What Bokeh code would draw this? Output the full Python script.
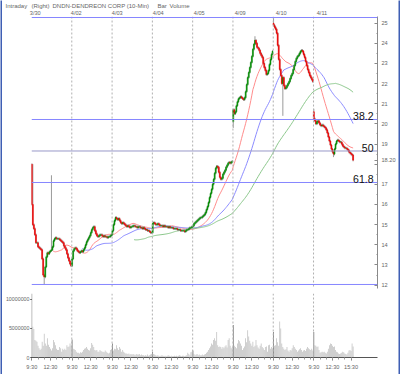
import numpy as np
import pandas as pd
from bokeh.plotting import figure
from bokeh.models import Range1d, Span, Label, FixedTicker, NumeralTickFormatter
from bokeh.layouts import column, row
from bokeh.embed import file_html
from bokeh.resources import INLINE

# ---------------- data ----------------
days = ["3/30", "4/02", "4/03", "4/04", "4/05", "4/09", "4/10", "4/11"]
day_open = [18.0, 12.95, 14.5, 14.6, 14.9, 20.1, 25.0, 20.6]

close_330 = [16.0, 15.0, 14.8, 14.5, 14.1, 14.1, 13.9, 13.85, 13.8, 13.75,
             13.3, 12.5, 12.4, 12.9, 13.4, 13.6, 13.55, 13.65, 13.7, 13.75,
             13.9, 14.2, 14.3, 14.35, 14.3, 14.3, 14.3, 14.25, 14.2, 14.15,
             14.1, 13.95, 13.85, 13.75, 13.55, 13.35, 13.2, 13.05, 12.95]
close_402 = [13.3, 13.7, 13.8, 13.85, 13.8, 13.7, 13.65, 13.6, 13.65, 13.7,
             13.65, 13.75, 13.85, 14.0, 14.15, 14.25, 14.35, 14.45, 14.6, 14.75,
             14.85, 14.9, 14.7, 14.55, 14.45, 14.4, 14.45, 14.5, 14.5, 14.45,
             14.4, 14.45, 14.4, 14.4, 14.35, 14.4, 14.4, 14.45, 14.5]
close_403 = [14.7, 15.0, 15.2, 15.35, 15.3, 15.25, 15.3, 15.2, 15.1, 15.05,
             15.1, 15.05, 15.0, 14.95, 14.9, 14.95, 14.9, 14.85, 14.9, 14.9,
             14.95, 14.95, 14.9, 14.9, 14.85, 14.9, 14.9, 14.85, 14.85, 14.8,
             14.85, 14.8, 14.75, 14.75, 14.7, 14.7, 14.65, 14.6, 14.6]
close_404 = [15.05, 15.1, 15.05, 15.0, 15.0, 15.05, 15.0, 14.95, 14.95, 14.95,
             14.9, 14.95, 14.9, 14.9, 14.9, 14.85, 14.9, 14.85, 14.85, 14.85,
             14.8, 14.8, 14.8, 14.8, 14.75, 14.75, 14.75, 14.7, 14.7, 14.7,
             14.7, 14.65, 14.7, 14.75, 14.75, 14.8, 14.85, 14.85, 14.9]
close_405 = [14.95, 15.05, 15.1, 15.15, 15.2, 15.25, 15.3, 15.35, 15.35, 15.4,
             15.45, 15.5, 15.6, 15.75, 15.9, 16.1, 16.35, 16.55, 16.75, 17.0,
             17.25, 17.55, 17.8, 17.9, 17.85, 17.6, 17.35, 17.25, 17.3, 17.5,
             17.6, 17.7, 17.85, 17.95, 18.05, 18.1, 18.05, 18.1, 18.15]
close_409 = [20.7, 20.5, 20.6, 20.9, 21.1, 21.25, 21.3, 21.35, 21.3, 21.25,
             21.2, 21.3, 21.6, 21.95, 22.3, 22.55, 22.8, 23.05, 23.35, 23.7,
             23.95, 24.15, 24.0, 23.8, 23.75, 23.65, 23.5, 23.4, 23.3, 23.0,
             22.8, 22.65, 22.45, 22.5, 22.65, 22.95, 23.2, 23.45, 23.6]
close_410 = [24.9, 24.8, 24.7, 24.5, 23.9, 23.2, 22.7, 22.4, 22.0, 22.3,
             21.9, 21.75, 21.8, 21.9, 22.0, 22.1, 22.25, 22.4, 22.5, 22.7,
             22.9, 23.1, 23.25, 23.35, 23.4, 23.5, 23.6, 23.65, 23.6, 23.45,
             23.3, 23.1, 22.9, 22.7, 22.55, 22.4, 22.3, 22.2, 22.1]
close_411 = [20.25, 20.15, 20.0, 20.1, 20.15, 20.05, 19.95, 19.9, 19.95, 19.9,
             19.85, 19.8, 19.7, 19.55, 19.35, 19.15, 18.95, 18.75, 18.6, 18.5,
             18.75, 19.0, 19.15, 19.2, 19.15, 19.1, 19.1, 19.0, 18.9, 18.85,
             18.8, 18.8, 18.75, 18.7, 18.6, 18.55, 18.5, 18.45, 18.2]

# volume, millions of shares per 10-min bar
vol_330 = [11.0, 5.3, 4.9, 3.0, 2.9, 2.7, 2.0, 1.6, 1.3, 1.5,
           2.7, 2.0, 4.1, 2.4, 2.0, 3.3, 2.2, 1.8, 1.5, 1.2,
           1.6, 3.0, 2.6, 2.1, 1.5, 1.3, 1.3, 1.8, 1.6, 1.0,
           1.5, 1.3, 1.5, 1.3, 2.1, 1.8, 1.9, 2.4, 2.0]
vol_402 = [3.1, 1.5, 1.4, 1.3, 1.0, 0.8, 0.8, 0.7, 0.9, 0.8,
           1.0, 1.3, 1.5, 1.6, 1.8, 1.5, 1.3, 1.2, 1.6, 2.5,
           2.2, 1.8, 1.3, 1.2, 1.3, 1.0, 1.0, 1.3, 1.1, 1.0,
           1.0, 0.9, 1.2, 1.0, 0.8, 0.7, 0.8, 1.3, 1.5]
vol_403 = [2.4, 1.2, 1.5, 1.4, 2.1, 1.6, 1.3, 1.8, 1.5, 1.0,
           1.3, 1.0, 0.8, 0.7, 0.7, 0.6, 0.7, 0.5, 0.6, 0.5,
           0.6, 0.5, 0.4, 0.6, 0.5, 0.5, 0.6, 0.4, 0.5, 0.4,
           0.4, 0.3, 0.4, 0.3, 0.5, 0.3, 0.4, 0.5, 0.6]
vol_404 = [1.0, 0.6, 0.5, 0.4, 0.3, 0.4, 0.3, 0.2, 0.3, 0.4,
           0.3, 0.2, 0.3, 0.2, 0.3, 0.4, 0.3, 0.2, 0.3, 0.2,
           0.2, 0.3, 0.2, 0.3, 0.2, 0.3, 0.4, 0.3, 0.2, 0.3,
           0.3, 0.2, 0.3, 0.4, 0.8, 0.6, 0.4, 0.9, 1.0]
vol_405 = [1.2, 0.6, 0.4, 0.5, 0.6, 0.4, 0.5, 0.4, 0.4, 0.5,
           0.4, 0.5, 0.6, 0.8, 1.0, 1.3, 1.6, 1.9, 2.4, 2.2,
           3.0, 3.3, 2.9, 4.4, 2.1, 1.8, 1.9, 1.8, 1.5, 1.8,
           1.6, 1.9, 2.1, 1.7, 3.0, 3.3, 2.0, 1.6, 1.8]
vol_409 = [5.6, 2.0, 1.8, 1.6, 2.4, 3.0, 2.8, 2.4, 2.0, 1.3,
           1.6, 1.9, 3.3, 2.6, 4.7, 3.6, 2.9, 2.4, 2.0, 2.7,
           1.8, 2.0, 3.0, 2.1, 1.7, 1.5, 2.0, 2.4, 1.8, 1.6,
           1.3, 1.8, 1.9, 1.0, 2.1, 2.2, 1.5, 1.8, 1.6]
vol_410 = [4.4, 2.0, 2.1, 3.3, 2.6, 2.0, 6.2, 5.0, 2.4, 1.8,
           1.5, 1.3, 1.4, 1.8, 1.2, 1.0, 1.3, 1.2, 1.6, 2.1,
           1.8, 1.5, 1.3, 1.0, 1.2, 1.4, 1.6, 1.3, 1.0, 1.2,
           1.3, 1.1, 1.5, 1.8, 1.6, 1.4, 1.3, 1.5, 1.2]
vol_411 = [4.4, 2.1, 2.0, 1.8, 1.9, 1.3, 0.8, 0.9, 1.0, 0.9,
           1.0, 0.8, 0.7, 1.0, 1.5, 2.1, 2.4, 2.3, 2.0, 1.8,
           1.9, 1.3, 1.0, 0.9, 0.7, 0.6, 0.7, 0.8, 1.0, 0.9,
           0.7, 0.6, 0.5, 0.8, 1.2, 1.3, 1.1, 2.4, 1.9]

# wick extremes that stand out (bar number, price)
spike_high_bar = [0, 1, 19, 216, 234, 273]
spike_high_val = [18.05, 18.0, 17.45, 24.35, 25.25, 20.75]
spike_low_bar = [12, 195, 243, 292]
spike_low_val = [12.05, 19.8, 20.4, 18.35]

fib_high = 25.28
fib_low = 12.03
fib_pcts = [0, 38.2, 50, 61.8, 100]
last_price = 18.20

ma_windows = [20, 50, 100]
ma_colors = ["#ff8c8c", "#8c8cff", "#8cc88c"]

time_tick_bar = [0, 18]          # 9:30 and 12:30 within a session
time_tick_text = ["9:30", "12:30"]
close_tick_bar = 36               # 15:30 on the last session
close_tick_text = "15:30"

title_parts = ["Intraday", "(Right)", "DNDN-DENDREON CORP (10-Min)", "Bar", "Volume"]
title_part_px = [3, 29, 50, 155, 167]   # left edge of each part in the header

closes_by_day = [close_330, close_402, close_403, close_404, close_405, close_409, close_410, close_411]
vols_by_day = [vol_330, vol_402, vol_403, vol_404, vol_405, vol_409, vol_410, vol_411]

# ---------------- build series ----------------
BARS = 39
idx, o, c, vol, first = [], [], [], [], []
for d, (cl, vl) in enumerate(zip(closes_by_day, vols_by_day)):
    prev = day_open[d]
    for k, val in enumerate(cl):
        idx.append(d * BARS + k)
        o.append(prev)
        c.append(val)
        prev = val
        vol.append(vl[k] * 1e6 if k < len(vl) else 0)
        first.append(k == 0)
idx = np.array(idx, float); o = np.array(o); c = np.array(c)
pad = 0.06
hi = np.maximum(o, c) + pad
lo = np.minimum(o, c) - pad
pos = {int(b): n for n, b in enumerate(idx)}
for b, v in zip(spike_high_bar, spike_high_val):
    if b in pos: hi[pos[b]] = v
for b, v in zip(spike_low_bar, spike_low_val):
    if b in pos: lo[pos[b]] = v
body_top = np.maximum(o, c)
body_bot = np.minimum(o, c)
body_col = list(np.where(c >= o, "#009000", "#f00000"))
vol_col = ["#5a5a5a" if f else "#b8b8b8" for f in first]

FONT = "Liberation Sans"
BLUE = "#3f5fb4"

# horizontal layout (pixels inside the 396 px wide column)
PX_BAR = 1.051
LEFT = 26          # frame left edge
AXIS_PX = 378      # price axis line
X0 = -0.3
X_AXIS = X0 + (AXIS_PX - LEFT) / PX_BAR
Y0, Y1 = 11.83, 25.33


def no_align(f):
    try:
        f.frame_align = False
    except Exception:
        pass
    return f


# ---------------- header (title + session dates) ----------------
h = figure(width=396, height=16, output_backend="svg", toolbar_location=None,
           x_axis_location=None, y_axis_location=None, min_border=0,
           outline_line_color=None,
           x_range=Range1d(X0 - LEFT / PX_BAR, X0 + (396 - LEFT) / PX_BAR),
           y_range=Range1d(0, 16))
no_align(h)
h.grid.visible = False
for txt, xp in zip(title_parts, title_part_px):
    h.add_layout(Label(x=xp, x_units="screen", y=11, y_units="data", text_baseline="middle",
                       text=txt, text_font=FONT, text_font_size="6px",
                       text_color="#666666"))
for d, name in enumerate(days):
    h.add_layout(Label(x=d * BARS, x_units="data", x_offset=1, y=4, y_units="data",
                       text_baseline="middle", text=name, text_font=FONT,
                       text_font_size="5.6px", text_color="#666666"))

# ---------------- price panel ----------------
p = figure(width=396, height=273, x_range=Range1d(X0, X_AXIS), y_range=Range1d(Y0, Y1),
           output_backend="svg", toolbar_location=None, x_axis_location=None,
           y_axis_location="right", min_border_left=LEFT, min_border_right=396 - AXIS_PX,
           min_border_top=0, min_border_bottom=1)
p.grid.visible = False
p.outline_line_color = None

# right price axis; the last trade (18.20) is marked on it in place of the 18 label
ya = p.yaxis[0]
ticks_p = list(range(12, 26)) + [last_price]
ya.ticker = FixedTicker(ticks=ticks_p, minor_ticks=list(np.arange(12.5, 25.5, 1.0)))
ya.major_label_overrides = {18: "", last_price: "%.2f" % last_price}
ya.axis_line_color = "#8a8a8a"
ya.major_tick_in = 3; ya.major_tick_out = 0
ya.minor_tick_in = 1; ya.minor_tick_out = 0
ya.major_tick_line_color = "#8a8a8a"; ya.minor_tick_line_color = "#8a8a8a"
ya.major_label_standoff = 4
ya.major_label_text_font = FONT
ya.major_label_text_font_size = "5.6px"
ya.major_label_text_color = "#666666"

for d in range(1, len(days)):
    p.add_layout(Span(location=d * BARS - 0.3, dimension="height", line_color="#b0b0b0",
                      line_dash="2 2", line_width=1))

rng = fib_high - fib_low
for pct in fib_pcts:
    lvl = fib_high - pct / 100.0 * rng
    col = "#9898c8" if pct == 50 else "#8686ff"
    p.add_layout(Span(location=lvl, dimension="width", line_color=col, line_width=1))
    if 0 < pct < 100:
        p.add_layout(Label(x=X_AXIS, x_units="data", x_offset=-4, y=lvl, y_units="data",
                           y_offset=3, text="%g" % pct, text_align="right",
                           text_baseline="alphabetic", text_font=FONT,
                           text_font_size="10.5px", text_color="#111111"))

cs = pd.Series(c)
for w, colr in zip(ma_windows, ma_colors):
    ma = cs.rolling(w).mean().to_numpy()
    m = ~np.isnan(ma)
    p.line(idx[m], ma[m], line_color=colr, line_width=1)

p.segment(x0=idx, y0=lo, x1=idx, y1=hi, line_color="#9a9a9a", line_width=1)
p.vbar(x=idx, width=0.9, top=body_top, bottom=body_bot, fill_color=body_col,
       line_color=body_col, line_width=0.6)

# ---------------- volume panel ----------------
v = figure(width=396, height=81, x_range=p.x_range, y_range=Range1d(0, 11.0e6),
           output_backend="svg", toolbar_location=None, min_border_left=LEFT,
           min_border_right=396 - AXIS_PX, min_border_top=2, min_border_bottom=15)
v.grid.visible = False
v.outline_line_color = None
for d in range(1, len(days)):
    v.add_layout(Span(location=d * BARS - 0.3, dimension="height", line_color="#b0b0b0",
                      line_dash="2 2", line_width=1))
v.vbar(x=idx, width=0.65, top=vol, bottom=0, fill_color=vol_col, line_color=None)

vy = v.yaxis[0]
vy.ticker = FixedTicker(ticks=[0, 5e6, 10e6])
vy.formatter = NumeralTickFormatter(format="0")
vy.axis_line_color = None
vy.major_tick_out = 1; vy.major_tick_in = 0
vy.minor_tick_line_color = None
vy.major_label_standoff = 1
vy.major_label_text_font = FONT
vy.major_label_text_font_size = "5.3px"
vy.major_label_text_color = "#666666"

ticks, labels = [], {}
for d in range(len(days)):
    for b, t in zip(time_tick_bar, time_tick_text):
        ticks.append(d * BARS + b); labels[d * BARS + b] = t
last = (len(days) - 1) * BARS + close_tick_bar
ticks.append(last); labels[last] = close_tick_text
minor = [d * BARS + k for d in range(len(days)) for k in range(0, BARS, 6)]
vx = v.xaxis[0]
vx.ticker = FixedTicker(ticks=ticks, minor_ticks=minor)
vx.major_label_overrides = labels
vx.axis_line_color = "#555555"
vx.major_tick_out = 3; vx.major_tick_in = 0
vx.minor_tick_out = 2; vx.minor_tick_in = 0
vx.major_tick_line_color = "#777777"; vx.minor_tick_line_color = "#999999"
vx.major_label_standoff = 3
vx.major_label_text_font = FONT
vx.major_label_text_font_size = "5.6px"
vx.major_label_text_color = "#666666"


def strip(w, hgt, colr):
    f = figure(width=w, height=hgt, toolbar_location=None, min_border=0,
               output_backend="svg", x_axis_location=None, y_axis_location=None,
               outline_line_color=None, background_fill_color=colr,
               border_fill_color=colr, x_range=Range1d(0, 1), y_range=Range1d(0, 1))
    f.grid.visible = False
    return no_align(f)


layout = row(strip(2, 374, BLUE),
             column(h, p, strip(396, 2, "#707070"), v, strip(396, 2, BLUE)),
             strip(2, 374, BLUE))

open("out.html", "w").write(file_html(layout, INLINE, title="DNDN"))
